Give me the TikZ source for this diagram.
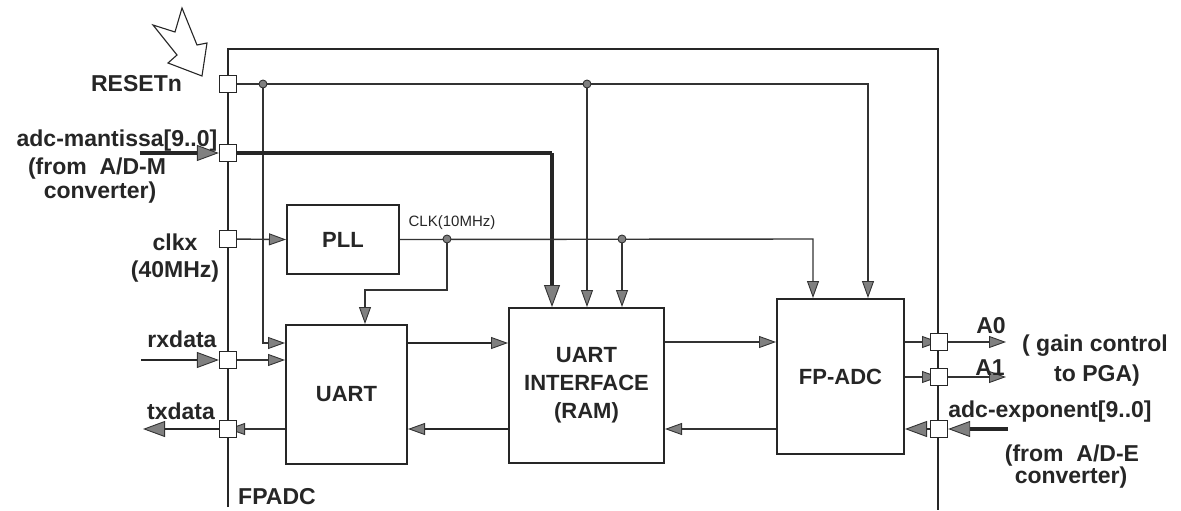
\documentclass[tikz,border=0pt]{standalone}
\usepackage{fontspec}
\setmainfont{Liberation Sans}
\usetikzlibrary{arrows.meta}
\begin{document}
\begin{tikzpicture}[x=1pt,y=-1pt,
  wire/.style={draw=black!80,line width=1.4pt},
  mid/.style={draw=black!85,line width=2.4pt},
  bus/.style={draw=black!85,line width=3.2pt},
  arr/.style={-{Triangle[length=17pt,width=12pt,color=black!80,fill=black!50,line width=0.9pt]}},
  barr/.style={-{Triangle[length=22pt,width=16pt,color=black!80,fill=black!50,line width=0.9pt]}},
  port/.style={draw=black!85,line width=1.3pt,fill=white,minimum size=17pt,inner sep=0pt},
  block/.style={draw=black!85,line width=2pt,fill=white,inner sep=0pt,align=center,
    font=\bfseries\fontsize{22}{28}\selectfont,text=black!85},
  lbl/.style={inner sep=0pt,font=\bfseries\fontsize{23}{27}\selectfont,text=black!85},
  dot/.style={circle,draw=black!80,fill=black!50,line width=0.9pt,minimum size=8pt,inner sep=0pt}
]
\useasboundingbox (0,0) rectangle (1181,511);

% outer chip outline
\draw[line width=2.2pt,black!85] (228,507) -- (228,49) -- (938,49) -- (938,510);

% blocks
\node[block,minimum width=112pt,minimum height=69pt] (pll) at (343,239.5) {PLL};
\node[block,minimum width=121pt,minimum height=139pt] (uart) at (346.5,394.5) {UART};
\node[block,minimum width=155pt,minimum height=155pt] (uif) at (586.5,385.5) {UART\\INTERFACE\\(RAM)};
\node[block,minimum width=127pt,minimum height=155pt] (fp) at (840.5,376.5) {FP-ADC};

% helper coordinates
\coordinate (r1) at (263,84);
\coordinate (r2) at (587,84);
\coordinate (r3) at (868,84);
\coordinate (m1) at (552,153);
\coordinate (c1) at (447,239);
\coordinate (c2) at (622,239);
\coordinate (c3) at (813,239);
\coordinate (c4) at (447,290);
\coordinate (c5) at (365,290);
\coordinate (ya) at (0,343);
\coordinate (yb) at (0,429);
\coordinate (yc) at (0,377);
\coordinate (yr) at (0,360);
\coordinate (yd) at (0,342);
\coordinate (inM) at (140,153);
\coordinate (inRx) at (141,360);
\coordinate (outTx) at (143,429);
\coordinate (outA0) at (1006,342);
\coordinate (outA1) at (1006,377);
\coordinate (inE) at (1008,429);

% reset net
\draw[wire,arr] (228,84) -- (r3) -- (r3 |- fp.north);
\draw[wire,arr] (r1) |- (uart.west |- ya);
\draw[wire,arr] (r2) -- (r2 |- uif.north);

% mantissa bus
\draw[bus] (228,153) -- (m1);
\draw[bus,barr] (m1) -- (m1 |- uif.north);

% clock net
\draw[wire,arr] (228,239) -- (pll.west);
\draw[wire,arr] (pll.east) -- (c3) -- (c3 |- fp.north);
\draw[wire,arr] (c1) -- (c4) -- (c5) -- (c5 |- uart.north);
\draw[wire,arr] (c2) -- (c2 |- uif.north);

% rx / tx
\draw[wire,arr] (228,360) -- (uart.west |- yr);
\draw[wire,arr] (uart.west |- yb) -- (228,429);

% internal data paths
\draw[mid,arr] (uart.east |- ya) -- (uif.west |- ya);
\draw[mid,arr] (uif.west |- yb) -- (uart.east |- yb);
\draw[wire,arr] (uif.east |- yd) -- (fp.west |- yd);
\draw[wire,arr] (fp.west |- yb) -- (uif.east |- yb);
\draw[wire,arr] (fp.east |- yd) -- (939,342);
\draw[wire,arr] (fp.east |- yc) -- (939,377);
\draw[mid,barr] (939,429) -- (fp.east |- yb);

% ports
\node[port] (pR) at (228,84) {};
\node[port] (pM) at (228,153) {};
\node[port] (pC) at (228,239) {};
\node[port] (pRx) at (228,360) {};
\node[port] (pTx) at (228,429) {};
\node[port] (pA0) at (939,342) {};
\node[port] (pA1) at (939,377) {};
\node[port] (pE) at (939,429) {};

% external connectors
\draw[bus,barr] (inM) -- (pM.west);
\draw[mid,barr] (inRx) -- (pRx.west);
\draw[mid,barr] (pTx.west) -- (outTx);
\draw[wire,arr] (pA0.east) -- (outA0);
\draw[wire,arr] (pA1.east) -- (outA1);
\draw[bus,barr] (inE) -- (pE.east);

% junction dots
\node[dot] (d1) at (r1) {};
\node[dot] (d2) at (r2) {};
\node[dot] (d3) at (c1) {};
\node[dot] (d4) at (c2) {};

% reset hollow arrow
\draw[line width=1.1pt,black!85,fill=white,line join=miter]
  (182,8) -- (197,45) -- (207,43) -- (202,76) -- (168,63) -- (177,55) -- (153,25) -- (175,32) -- cycle;

% labels
\node[lbl] (tReset) at (136.5,84) {RESETn};
\node[lbl] (tMant) at (117,141) {adc-mantissa[9..0]};
\node[lbl] (tFromM) at (97,169) {(from\ \ A/D-M};
\node[lbl] (tConvM) at (100,193) {converter)};
\node[lbl] (tClkx) at (175,242) {clkx};
\node[lbl] (t40) at (175,272) {(40MHz)};
\node[lbl] (tRx) at (182,339) {rxdata};
\node[lbl] (tTx) at (181,411) {txdata};
\node[lbl] (tFPADC) at (277,497) {FPADC};
\node[lbl] (tA0) at (991,326) {A0};
\node[lbl] (tA1) at (990,368) {A1};
\node[lbl] (tGain) at (1095,346) {( gain control};
\node[lbl] (tPGA) at (1097,376) {to PGA)};
\node[lbl] (tExp) at (1050,412) {adc-exponent[9..0]};
\node[lbl] (tFromE) at (1072,456) {(from\ \ A/D-E};
\node[lbl] (tConvE) at (1071,478) {converter)};
\node[inner sep=0pt,font=\fontsize{15}{18}\selectfont,text=black!85] (tClk) at (452,223) {CLK(10MHz)};
\end{tikzpicture}
\end{document}
